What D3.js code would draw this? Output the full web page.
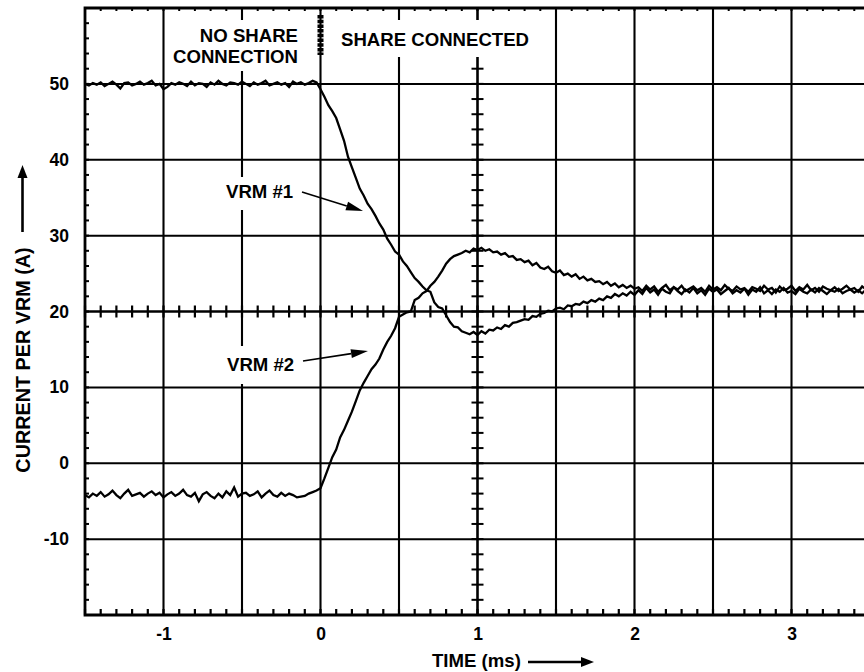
<!DOCTYPE html>
<html><head><meta charset="utf-8">
<script src="https://cdn.jsdelivr.net/npm/d3@7"></script>
<style>
body{margin:0;background:#fff}
svg{display:block}
text{font-family:"Liberation Sans",Arial,Helvetica,sans-serif;font-weight:bold;fill:#000}
</style>
</head><body>
<svg id="c" width="864" height="672"></svg>
<script>
// sampling of the scope traces (ms)
const tStart = -1.5, tStep = 0.025;

// VRM #1 current (A)
const vrm1 = [
50.0,49.8,50.1,49.9,50.2,49.7,50.0,50.3,49.9,49.4,
50.1,50.2,49.8,50.0,50.3,49.9,50.1,50.4,49.8,50.0,
49.3,49.6,50.1,49.9,50.2,50.0,49.7,50.3,49.8,50.1,
50.0,49.6,50.2,49.9,50.4,50.0,49.8,50.2,50.1,49.9,
50.3,50.0,49.7,50.2,49.9,50.1,50.4,49.8,50.0,50.2,
49.9,50.1,49.6,50.3,50.0,50.2,49.9,50.1,50.4,50.2,
49.3,48.3,47.2,46.4,45.5,44.0,42.5,40.4,39.0,37.6,
36.2,35.3,34.2,33.5,32.6,31.6,30.8,29.6,28.8,27.9,
27.5,26.6,26.0,25.2,24.4,23.9,23.3,22.8,22.6,21.2,
20.6,20.4,19.5,18.6,18.0,17.9,17.4,17.2,17.0,17.3,
16.9,17.4,17.1,17.6,17.5,17.9,17.7,18.2,18.0,18.5,
18.6,18.8,19.0,18.9,19.4,19.3,19.7,19.8,20.1,20.0,
20.4,20.5,20.3,20.8,20.7,21.0,20.9,21.3,21.1,21.5,
21.3,21.7,21.5,22.0,21.8,22.3,22.0,22.4,22.1,22.6,
22.2,
22.8,22.3,23.1,22.5,22.9,22.2,23.0,22.6,22.4,23.2,
22.7,22.3,22.9,22.5,23.1,22.4,22.8,22.2,23.0,22.6,
22.9,22.3,22.7,23.1,22.4,22.8,22.5,23.0,22.2,22.9,
22.6,23.2,22.4,22.8,22.3,22.9,22.6,23.1,22.5,22.7,
22.3,23.0,22.6,22.4,22.9,22.5,23.1,22.7,22.3,22.8,
22.6,23.0,22.4,22.7,22.9,22.5,22.8,22.4,22.9,22.6
];

// VRM #2 current (A)
const vrm2 = [
-4.2,-4.5,-4.0,-4.3,-3.8,-4.4,-4.1,-3.6,-4.2,-4.6,
-4.0,-3.5,-4.3,-4.1,-3.9,-4.4,-4.0,-3.7,-4.2,-3.9,
-4.5,-4.1,-3.8,-4.3,-4.0,-3.5,-4.2,-4.4,-3.9,-5.0,
-4.1,-3.8,-4.3,-4.6,-4.0,-4.5,-3.7,-4.2,-3.2,-4.4,
-4.0,-3.9,-4.3,-4.1,-3.7,-4.5,-4.0,-3.6,-4.2,-4.4,
-3.9,-4.3,-4.0,-4.2,-4.5,-4.4,-4.3,-4.0,-3.8,-3.6,
-3.3,-2.0,-0.6,0.8,1.8,3.4,4.4,5.6,6.8,8.2,
9.6,10.6,11.5,12.4,13.0,13.8,15.0,16.0,16.8,17.8,
19.3,19.6,19.9,20.0,21.5,21.8,22.4,22.7,23.4,23.9,
24.6,25.4,26.3,26.9,27.3,27.5,27.7,28.0,27.8,28.3,
28.1,28.4,28.0,28.2,27.8,27.9,27.5,27.7,27.2,27.3,
26.8,26.9,26.5,26.7,26.1,26.4,25.8,25.6,25.9,25.3,
25.1,25.4,24.8,25.0,24.6,24.9,24.3,24.6,24.1,24.3,
23.9,24.0,23.6,23.9,23.4,23.7,23.2,23.5,23.1,23.4,
23.0,
23.2,22.7,23.4,22.9,23.3,22.6,23.1,23.5,22.8,23.2,
22.9,23.4,22.7,23.0,23.3,22.8,23.1,22.6,23.4,22.9,
23.2,22.8,23.5,23.0,22.7,23.3,22.9,23.1,22.6,23.2,
23.0,22.7,23.4,22.9,23.1,22.5,23.3,22.8,23.0,23.4,
22.7,23.2,22.9,23.5,22.8,23.1,22.6,23.3,23.0,22.8,
23.2,22.7,23.0,23.4,22.9,23.1,22.6,23.3,22.9,23.0
];

const xTickLabels = [-1, 0, 1, 2, 3];
const yTickLabels = [-10, 0, 10, 20, 30, 40, 50];
const xGrid = [-1, -0.5, 0, 0.5, 1, 1.5, 2, 2.5, 3];
const yGrid = [-10, 0, 10, 20, 30, 40, 50];

const svg = d3.select('#c');
const x = d3.scaleLinear().domain([-1.5, 3.5]).range([85, 870]);
const y = d3.scaleLinear().domain([-20, 60]).range([615, 8]);

// grid lines
const g = svg.append('g');
g.selectAll('line.vg').data(xGrid).join('line').attr('class','vg')
  .attr('x1', d => x(d)).attr('x2', d => x(d))
  .attr('y1', y(60)).attr('y2', y(-20))
  .attr('stroke', '#000').attr('stroke-width', d => d === 1 ? 2.6 : 2.1);
g.selectAll('line.hg').data(yGrid).join('line').attr('class','hg')
  .attr('x1', x(-1.5)).attr('x2', x(3.5))
  .attr('y1', d => y(d)).attr('y2', d => y(d))
  .attr('stroke', '#000').attr('stroke-width', d => d === 20 ? 2.6 : 2);

// minor ticks
const minorX = d3.range(-15, 36).map(i => i / 10);
const minorY = d3.range(-10, 31).map(i => i * 2);
// center horizontal axis (20 A)
g.selectAll('line.mx').data(minorX).join('line').attr('class','mx')
  .attr('x1', d => x(d)).attr('x2', d => x(d))
  .attr('y1', y(20) - 6).attr('y2', y(20) + 6)
  .attr('stroke', '#000').attr('stroke-width', 2.2);
// center vertical axis (1 ms)
g.selectAll('line.my').data(minorY).join('line').attr('class','my')
  .attr('x1', x(1) - 6).attr('x2', x(1) + 6)
  .attr('y1', d => y(d)).attr('y2', d => y(d))
  .attr('stroke', '#000').attr('stroke-width', 2);
// bottom border ticks
g.selectAll('line.bx').data(minorX).join('line').attr('class','bx')
  .attr('x1', d => x(d)).attr('x2', d => x(d))
  .attr('y1', y(-20)).attr('y2', y(-20) - 6)
  .attr('stroke', '#000').attr('stroke-width', 2.2);
// top border ticks
g.selectAll('line.tx').data(minorX).join('line').attr('class','tx')
  .attr('x1', d => x(d)).attr('x2', d => x(d))
  .attr('y1', y(60)).attr('y2', y(60) + 3)
  .attr('stroke', '#000').attr('stroke-width', 2);
// left border ticks
g.selectAll('line.ly').data(minorY).join('line').attr('class','ly')
  .attr('x1', x(-1.5)).attr('x2', x(-1.5) + 4)
  .attr('y1', d => y(d)).attr('y2', d => y(d))
  .attr('stroke', '#000').attr('stroke-width', 2);

// border
g.append('path')
  .attr('d', `M${x(3.5)},${y(60)}H${x(-1.5)}V${y(-20)}H${x(3.5)}`)
  .attr('fill', 'none').attr('stroke', '#000').attr('stroke-width', 2.8);

// white label backgrounds (interrupt grid lines)
const boxes = [[172, 20, 134, 51], [330, 20, 212, 37], [220, 177, 80, 33], [220, 346, 80, 38]];
g.selectAll('rect.bg').data(boxes).join('rect').attr('class','bg')
  .attr('x', d => d[0]).attr('y', d => d[1]).attr('width', d => d[2]).attr('height', d => d[3])
  .attr('fill', '#fff');

// traces
const line = d3.line().x((d, i) => x(tStart + i * tStep)).y(d => y(d));
[vrm1, vrm2].forEach(s => {
  svg.append('path').datum(s).attr('d', line)
    .attr('fill', 'none').attr('stroke', '#000').attr('stroke-width', 2.3)
    .attr('stroke-linejoin', 'miter');
});

// trigger marker at t = 0
svg.append('line')
  .attr('x1', x(0)).attr('x2', x(0)).attr('y1', 15).attr('y2', 55)
  .attr('stroke', '#000').attr('stroke-width', 6)
  .attr('stroke-dasharray', '3.5,1.2');

// axes labels via d3 axes
const fmt = d => String(d);
const ax = svg.append('g').attr('transform', `translate(0,${y(-20)})`)
  .call(d3.axisBottom(x).tickValues(xTickLabels).tickSize(0).tickPadding(13).tickFormat(fmt));
ax.select('.domain').remove();
ax.selectAll('text').style('font-size', '17.5px').style('font-family', '"Liberation Sans",Arial,sans-serif').style('font-weight', 'bold');

const ay = svg.append('g').attr('transform', `translate(${x(-1.5)},0)`)
  .call(d3.axisLeft(y).tickValues(yTickLabels).tickSize(0).tickPadding(16).tickFormat(fmt));
ay.select('.domain').remove();
ay.selectAll('text').style('font-size', '17.5px').style('font-family', '"Liberation Sans",Arial,sans-serif').style('font-weight', 'bold');

// annotations
function txt(s, px, py, anchor, size) {
  svg.append('text').attr('x', px).attr('y', py).attr('text-anchor', anchor || 'start')
    .style('font-size', (size || 18.6) + 'px').text(s);
}
txt('NO SHARE', 298, 42, 'end');
txt('CONNECTION', 298, 63, 'end');
txt('SHARE CONNECTED', 341, 46, 'start');
txt('VRM #1', 226, 198, 'start');
txt('VRM #2', 227, 371, 'start');
txt('TIME (ms)', 432, 667, 'start');

svg.append('text').attr('transform', 'translate(30,360) rotate(-90)')
  .attr('text-anchor', 'middle').style('font-size', '19.8px').text('CURRENT PER VRM (A)');

// arrows
function arrow(x1, y1, x2, y2, len, wid, sw) {
  const a = Math.atan2(y2 - y1, x2 - x1);
  const bx = x2 - len * Math.cos(a), by = y2 - len * Math.sin(a);
  svg.append('line').attr('x1', x1).attr('y1', y1).attr('x2', bx).attr('y2', by)
    .attr('stroke', '#000').attr('stroke-width', sw);
  const px = -Math.sin(a) * wid / 2, py = Math.cos(a) * wid / 2;
  svg.append('path')
    .attr('d', `M${x2},${y2}L${bx + px},${by + py}L${bx - px},${by - py}Z`)
    .attr('fill', '#000');
}
arrow(302, 192, 363, 211, 17, 9, 1.6);
arrow(303, 361, 368, 351, 17, 9, 1.6);
arrow(22.5, 232, 22.5, 165, 13, 10, 2.6);
arrow(528, 662, 594, 662, 13, 10, 2.6);
</script>
</body></html>
